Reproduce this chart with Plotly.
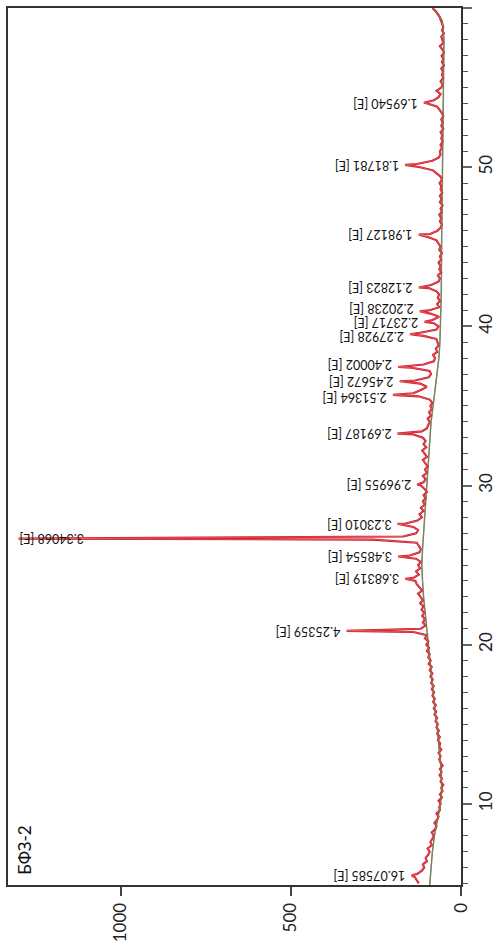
import numpy as np
import plotly.graph_objects as go

# ---- XRD scan, sample БФЗ-2 (Cu Kα) ----
scan_start = 5.0
scan_step = 0.2

# counts on the regular 2θ grid (5.0 ... 60.0, step 0.2)
scan_counts = [
    124, 130, 136, 128, 115,   # 5
    108, 112, 100, 104, 96,    # 6
    92, 98, 86, 90, 84,        # 7
    80, 86, 76, 72, 78,        # 8
    70, 66, 72, 62, 64,        # 9
    60, 66, 56, 62, 54,        # 10
    58, 52, 60, 56, 63,        # 11
    57, 62, 54, 60, 64,        # 12
    60, 66, 58, 64, 61,        # 13
    68, 62, 70, 65, 72,        # 14
    68, 75, 70, 78, 73,        # 15
    80, 74, 82, 77, 84,        # 16
    79, 86, 80, 88, 83,        # 17
    90, 84, 92, 86, 95,        # 18
    89, 96, 92, 100, 94,       # 19
    102, 96, 106, 100, 140,    # 20
    118, 104, 112, 106, 114,   # 21
    108, 116, 110, 120, 112,   # 22
    118, 126, 114, 122, 130,   # 23
    134, 140, 124, 132, 120,   # 24
    126, 118, 132, 150, 122,   # 25
    118, 124, 130, 260, 170,   # 26
    132, 126, 140, 165, 128,   # 27
    115, 122, 110, 118, 106,   # 28
    112, 104, 110, 100, 108,   # 29
    118, 110, 104, 112, 100,   # 30
    106, 98, 104, 112, 100,    # 31
    108, 114, 102, 110, 104,   # 32
    112, 140, 115, 100, 96,    # 33
    92, 98, 88, 94, 86,        # 34
    90, 84, 92, 125, 140,      # 35
    118, 100, 120, 135, 95,    # 36
    88, 92, 145, 110, 80,      # 37
    76, 82, 70, 74, 66,        # 38
    68, 72, 110, 120, 72,      # 39
    66, 80, 84, 64, 90,        # 40
    95, 64, 70, 62, 68,        # 41
    64, 72, 95, 88, 66,        # 42
    62, 68, 58, 64, 60,        # 43
    66, 58, 62, 56, 64,        # 44
    60, 66, 72, 95, 90,        # 45
    70, 60, 56, 62, 58,        # 46
    64, 56, 60, 54, 62,        # 47
    57, 62, 55, 60, 58,        # 48
    63, 56, 60, 70, 82,        # 49
    120, 130, 84, 66, 60,      # 50
    62, 56, 60, 54, 58,        # 51
    55, 60, 52, 58, 54,        # 52
    58, 52, 56, 62, 70,        # 53
    98, 80, 66, 60, 72,        # 54
    58, 54, 60, 52, 56,        # 55
    53, 58, 50, 56, 52,        # 56
    57, 50, 55, 62, 52,        # 57
    54, 58, 50, 56, 52,        # 58
    55, 58, 62, 68, 74,        # 59
    84,                        # 60
]

# identified reflections: d-spacing (Å) and peak-top counts
peak_d = [16.07585, 4.25359, 3.68319, 3.48554, 3.34068, 3.23010, 2.96955,
          2.69187, 2.51364, 2.45672, 2.40002, 2.27928, 2.23717, 2.20238,
          2.12823, 1.98127, 1.81781, 1.69540]
peak_counts = [145, 336, 164, 185, 1300, 187, 129,
               187, 200, 180, 185, 150, 107, 121,
               124, 124, 164, 109]

# fitted background (2θ, counts)
bg_2theta = [4.9, 6, 7, 8, 9, 10, 11, 12, 13, 14, 15, 16, 17, 18, 19, 20, 21,
             22, 23, 24, 25, 26, 27, 28, 29, 30, 31, 32, 33, 34, 35, 36, 37,
             38, 39, 40, 42, 45, 50, 55, 58, 59.2, 59.6, 60]
bg_counts = [92, 88, 84, 78, 68, 60, 57, 58, 62, 66, 71, 77, 82, 87, 90, 96,
             101, 106, 110, 113, 115, 113, 110, 107, 104, 101, 98, 95, 92, 88,
             82, 76, 70, 65, 62, 60, 58, 57, 54, 52, 50, 55, 66, 84]

sample_name = "БФЗ-2"
wavelength = 1.5406  # Cu Kα1, Å

# small vertical nudges (px) for the crowded labels
label_nudge = {2.51364: -2, 2.40002: 2, 2.27928: -3, 2.20238: 3}

# ---- build the profile ----
grid = scan_start + scan_step * np.arange(len(scan_counts))
peak_2theta = 2 * np.degrees(np.arcsin(wavelength / (2 * np.array(peak_d))))

tt = np.concatenate([grid, peak_2theta])
cc = np.concatenate([np.array(scan_counts, float), np.array(peak_counts, float)])
order = np.argsort(tt, kind="stable")
tt, cc = tt[order], cc[order]

I_MAX = 1331
FONT = "Lato, 'Noto Sans', sans-serif"

fig = go.Figure()
fig.add_trace(go.Scatter(x=bg_counts, y=bg_2theta, mode="lines",
                         line=dict(color="#7f8690", width=1.5),
                         hoverinfo="skip", showlegend=False))
fig.add_trace(go.Scatter(x=cc, y=tt, mode="lines",
                         line=dict(color="#d0102c", width=2.1),
                         showlegend=False))
fig.add_trace(go.Scatter(x=cc, y=tt, mode="lines",
                         line=dict(color="#eea27c", width=0.6),
                         opacity=0.8, hoverinfo="skip", showlegend=False))
fig.add_trace(go.Scatter(x=bg_counts, y=bg_2theta, mode="lines",
                         line=dict(color="#7d8636", width=0.8),
                         hoverinfo="skip", showlegend=False))

# peak labels, written along the original (rotated) direction
label_width_counts = 215
for d, t2, h in zip(peak_d, peak_2theta, peak_counts):
    text = f"{d:.5f} [E]"
    shift = label_nudge.get(d, 0)
    if h + label_width_counts > I_MAX:
        fig.add_annotation(x=0, xref="paper", y=t2, text=text, textangle=180,
                           xanchor="left", yanchor="middle", xshift=9,
                           yshift=shift, showarrow=False,
                           font=dict(family=FONT, size=12.5, color="#111"))
    else:
        fig.add_annotation(x=h, y=t2, text=text, textangle=180,
                           xanchor="right", yanchor="middle", xshift=-4,
                           yshift=shift, showarrow=False,
                           font=dict(family=FONT, size=12.5, color="#111"))

fig.add_annotation(x=0.037, y=0.04, xref="paper", yref="paper",
                   text=sample_name, textangle=-90, showarrow=False,
                   xanchor="center", yanchor="middle",
                   font=dict(family=FONT, size=17, color="#111"))

fig.update_layout(
    width=502, height=948,
    margin=dict(l=8, r=32, t=6, b=63),
    paper_bgcolor="white", plot_bgcolor="white",
    font=dict(family=FONT, color="#222"),
    xaxis=dict(range=[I_MAX, 0], tickvals=[0, 500, 1000], tickangle=-90,
               ticks="outside", ticklen=9, tickwidth=1.5, tickcolor="#444",
               showline=True, linecolor="#333", linewidth=2, mirror=True,
               showgrid=False, zeroline=False,
               tickfont=dict(family=FONT, size=17, color="#222")),
    yaxis=dict(range=[4.9, 60], side="right", tick0=0, dtick=10,
               tickangle=-90, ticks="outside", ticklen=9, tickwidth=1.5,
               tickcolor="#666",
               minor=dict(dtick=1, ticks="outside", ticklen=5,
                          tickcolor="#555", tickwidth=1),
               showline=True, linecolor="#333", linewidth=2, mirror=True,
               showgrid=False, zeroline=False,
               tickfont=dict(family=FONT, size=17, color="#222")),
)

fig.write_html("out.html")
